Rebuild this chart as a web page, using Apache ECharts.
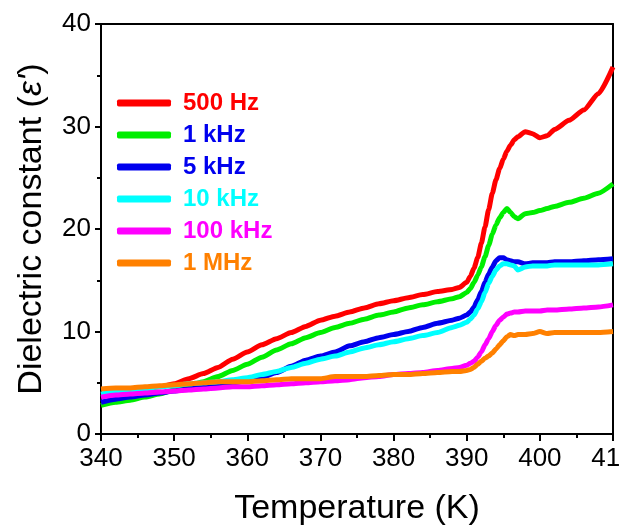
<!DOCTYPE html>
<html>
<head>
<meta charset="utf-8">
<script src="https://cdn.jsdelivr.net/npm/echarts@6/dist/echarts.min.js"></script>
<style>html,body{margin:0;padding:0;background:#fff;}#c{width:620px;height:528px;}</style>
</head>
<body>
<div id="c"></div>
<script>
var temps = [340,342,344,346,348,350,352,354,356,358,360,362,364,366,368,370,372,374,376,378,380,382,384,386,388,389,390,390.5,391,391.5,392,392.5,393,393.5,394,394.5,395,395.5,396,396.5,397,398,399,400,401,402,404,406,408,410];

var hz500 = [3.8,4.0,4.2,4.4,4.6,4.9,5.4,5.9,6.5,7.3,8.0,8.7,9.3,9.9,10.5,11.1,11.5,11.9,12.3,12.7,13.0,13.3,13.6,13.9,14.1,14.3,14.8,15.4,16.2,17.2,18.6,20.2,21.9,23.5,24.8,25.9,26.8,27.6,28.2,28.7,29.0,29.5,29.3,28.9,29.1,29.7,30.6,31.6,33.2,35.8];
var khz1 = [2.8,3.1,3.3,3.6,3.9,4.3,4.7,5.1,5.6,6.2,6.8,7.5,8.2,8.8,9.4,9.9,10.4,10.8,11.2,11.6,11.9,12.3,12.6,12.9,13.2,13.4,13.8,14.2,14.8,15.5,16.3,17.3,18.4,19.5,20.4,21.1,21.6,22.0,21.6,21.2,21.0,21.5,21.6,21.8,22.0,22.2,22.6,23.0,23.5,24.4];
var khz5 = [3.1,3.4,3.6,3.8,4.0,4.2,4.4,4.6,4.8,5.0,5.2,5.5,6.0,6.6,7.2,7.6,8.0,8.6,9.0,9.4,9.7,10.0,10.4,10.8,11.1,11.3,11.6,11.9,12.4,13.1,13.9,14.8,15.6,16.3,16.9,17.2,17.2,17.0,16.9,16.8,16.8,16.6,16.7,16.7,16.7,16.8,16.8,16.9,17.0,17.1];
var khz10 = [3.9,4.1,4.3,4.4,4.6,4.7,4.9,5.0,5.1,5.3,5.5,5.8,6.1,6.5,6.9,7.3,7.6,8.0,8.4,8.7,9.0,9.3,9.6,9.9,10.4,10.6,10.9,11.2,11.6,12.2,12.9,13.8,14.7,15.4,16.0,16.4,16.6,16.6,16.5,16.4,16.0,16.3,16.4,16.4,16.4,16.5,16.5,16.5,16.5,16.6];
var khz100 = [3.6,3.8,3.9,4.0,4.1,4.2,4.3,4.4,4.5,4.6,4.6,4.7,4.8,4.9,5.0,5.1,5.2,5.3,5.5,5.6,5.8,5.9,6.0,6.2,6.4,6.5,6.7,6.9,7.1,7.5,8.0,8.7,9.3,10.0,10.6,11.1,11.4,11.7,11.8,11.9,11.9,12.0,12.0,12.0,12.1,12.1,12.2,12.3,12.4,12.6];
var mhz1 = [4.4,4.5,4.5,4.6,4.7,4.8,4.9,5.0,5.1,5.1,5.1,5.2,5.3,5.4,5.4,5.4,5.6,5.6,5.6,5.7,5.8,5.8,5.9,6.0,6.1,6.1,6.2,6.3,6.5,6.8,7.1,7.4,7.6,7.9,8.3,8.7,9.1,9.5,9.7,9.6,9.7,9.7,9.8,10.0,9.8,9.9,9.9,9.9,9.9,10.0];

var seriesNames = ['500 Hz','1 kHz','5 kHz','10 kHz','100 kHz','1 MHz'];
var seriesValues = [hz500, khz1, khz5, khz10, khz100, mhz1];
var lineColors = ['#ff0000','#00ee00','#0000ee','#00ffff','#ff00ff','#ff8000'];
var labelColors = ['#ff0000','#0000ee','#0000ee','#00ffff','#ff00ff','#ff8000'];
var xTicks = [340,410,10];
var yTicks = [0,40,10];

var FONT = "'Liberation Sans', Arial, sans-serif";

var chart = echarts.init(document.getElementById('c'), null, {renderer:'canvas'});

var series = seriesNames.map(function(name, i){
  return {
    name: name,
    type: 'line',
    xAxisIndex: 0, yAxisIndex: 0,
    showSymbol: false,
    symbol: 'none',
    smooth: 0.2,
    smoothMonotone: 'x',
    lineStyle: {color: lineColors[i], width: 5},
    itemStyle: {color: lineColors[i]},
    data: temps.map(function(t, j){ return [t, seriesValues[i][j]]; })
  };
});

var legendData = seriesNames.map(function(name, i){
  return {name: name, textStyle: {color: labelColors[i]}};
});

var option = {
  backgroundColor: '#fff',
  animation: false,
  grid: {left: 101, right: 7, top: 24, bottom: 94, containLabel: false, outerBoundsMode: 'none'},
  legend: {
    orient: 'vertical',
    left: 112,
    top: 86,
    icon: 'roundRect',
    itemWidth: 54,
    itemHeight: 7,
    itemGap: 8,
    data: legendData,
    textStyle: {fontFamily: FONT, fontSize: 24, fontWeight: 'bold', lineHeight: 24, padding: [0,0,0,7]}
  },
  xAxis: [{
    type: 'value',
    min: xTicks[0], max: xTicks[1], interval: xTicks[2],
    name: 'Temperature (K)',
    nameLocation: 'middle',
    nameGap: 58,
    nameTextStyle: {fontFamily: FONT, fontSize: 34, color: '#000'},
    axisLine: {show: true, onZero: false, lineStyle: {color: '#000', width: 2}},
    axisTick: {show: true, inside: false, length: 7, lineStyle: {color: '#000', width: 2}},
    minorTick: {show: true, splitNumber: 2, length: 4, lineStyle: {color: '#000', width: 2}},
    axisLabel: {show: true, margin: 12, fontFamily: FONT, fontSize: 26, color: '#000', showMinLabel: true, showMaxLabel: true, hideOverlap: false},
    splitLine: {show: false}
  }, {
    type: 'value', position: 'top',
    min: xTicks[0], max: xTicks[1], interval: xTicks[2],
    axisLine: {show: true, onZero: false, lineStyle: {color: '#000', width: 2}},
    axisTick: {show: false}, axisLabel: {show: false}, splitLine: {show: false}
  }],
  yAxis: [{
    type: 'value',
    min: yTicks[0], max: yTicks[1], interval: yTicks[2],
    name: "{n|Dielectric constant (}{e|ε'}{n|)}",
    nameLocation: 'middle',
    nameGap: 52,
    nameTextStyle: {fontFamily: FONT, fontSize: 34, color: '#000',
      rich: {n: {fontFamily: FONT, fontSize: 34, color: '#000'}, e: {fontFamily: FONT, fontSize: 34, color: '#000', fontStyle: 'italic'}}},
    axisLine: {show: true, onZero: false, lineStyle: {color: '#000', width: 2}},
    axisTick: {show: true, inside: false, length: 6, lineStyle: {color: '#000', width: 2}},
    minorTick: {show: true, splitNumber: 2, length: 4, lineStyle: {color: '#000', width: 2}},
    axisLabel: {show: true, margin: 10, fontFamily: FONT, fontSize: 26, color: '#000'},
    splitLine: {show: false}
  }, {
    type: 'value', position: 'right',
    min: yTicks[0], max: yTicks[1], interval: yTicks[2],
    axisLine: {show: true, onZero: false, lineStyle: {color: '#000', width: 2}},
    axisTick: {show: false}, axisLabel: {show: false}, splitLine: {show: false}
  }],
  series: series
};
chart.setOption(option);
</script>
</body>
</html>
